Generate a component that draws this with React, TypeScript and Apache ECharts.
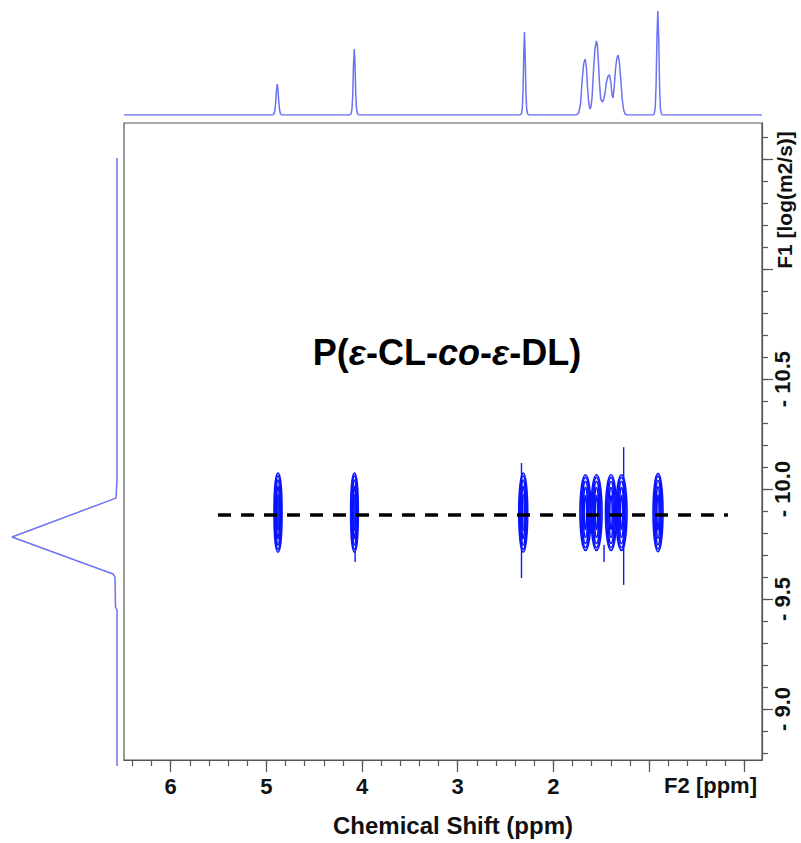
import React, { useEffect, useRef } from 'react';
import * as echarts from 'echarts';

// ---- axis ranges (ppm and log(m2/s)) ----
const X_MIN = -0.181;
const X_MAX = 6.488;
const Y_MIN = -11.664;
const Y_MAX = -8.768;
const LEFT_Y_MAX = -8.723;

// ---- ticks ----
const xMinorTicks = [0, 0.2, 0.4, 0.6, 0.8, 1, 1.2, 1.4, 1.6, 1.8, 2, 2.2, 2.4, 2.6, 2.8, 3, 3.2, 3.4, 3.6, 3.8, 4, 4.2, 4.4, 4.6, 4.8, 5, 5.2, 5.4, 5.6, 5.8, 6, 6.2, 6.4];
const xMajorTicks = [0, 1, 2, 3, 4, 5, 6];
const xTickLabels = [2, 3, 4, 5, 6];
const yMinorTicks = [-11.6, -11.5, -11.4, -11.3, -11.2, -11.1, -11.0, -10.9, -10.8, -10.7, -10.6, -10.5, -10.4, -10.3, -10.2, -10.1, -10.0, -9.9, -9.8, -9.7, -9.6, -9.5, -9.4, -9.3, -9.2, -9.1, -9.0, -8.9, -8.8];
const yMajorTicks = [-11.5, -11.0, -10.5, -10.0, -9.5, -9.0];
const yTickLabels = [-10.5, -10.0, -9.5, -9.0];

// ---- 1D projection on top: [ppm, intensity] ----
const topSpectrum: [number, number][] = [
  [6.488, 0],
  [4.935, 0], [4.92, 1], [4.91, 5], [4.902, 13], [4.894, 25], [4.886, 31], [4.878, 25], [4.87, 13], [4.862, 5], [4.852, 1], [4.837, 0],
  [4.13, 0], [4.115, 1], [4.105, 6], [4.097, 20], [4.089, 50], [4.081, 66], [4.073, 50], [4.065, 20], [4.057, 6], [4.047, 1], [4.032, 0],
  [2.35, 0], [2.335, 1], [2.325, 6], [2.317, 24], [2.309, 62], [2.302, 83], [2.295, 62], [2.287, 24], [2.279, 6], [2.269, 1], [2.255, 0],
  [1.76, 0], [1.735, 2], [1.715, 12], [1.698, 36], [1.682, 52], [1.667, 56], [1.655, 48], [1.643, 28], [1.63, 12], [1.618, 6], [1.607, 8],
  [1.595, 18], [1.58, 45], [1.565, 66], [1.55, 74], [1.54, 70], [1.53, 55], [1.518, 32], [1.505, 16], [1.49, 13], [1.475, 15],
  [1.46, 22], [1.445, 33], [1.428, 39], [1.412, 40], [1.398, 32], [1.386, 20], [1.376, 17], [1.364, 28], [1.35, 46], [1.336, 57],
  [1.322, 60], [1.31, 53], [1.295, 35], [1.28, 16], [1.265, 5], [1.25, 1], [1.23, 0],
  [0.96, 0], [0.945, 1], [0.935, 7], [0.926, 30], [0.917, 78], [0.908, 104], [0.899, 78], [0.89, 30], [0.881, 7], [0.871, 1], [0.856, 0],
  [-0.181, 0],
];

// ---- 1D projection on the left (diffusion): [intensity, log D] ----
const leftProjection: [number, number][] = [
  [0, -11.505], [0, -10.041], [1, -9.959], [105, -9.782], [4, -9.614], [2, -9.6], [1.5, -9.464], [0, -9.45], [0, -8.741],
];

// ---- 2D contour peaks: [ppm, log D, half width (ppm), half height (log D)] ----
const contourPeaks: [number, number, number, number][] = [
  [4.878, -9.893, 0.042, 0.18],
  [4.079, -9.893, 0.04, 0.18],
  [2.315, -9.893, 0.047, 0.18],
  [1.664, -9.893, 0.058, 0.172],
  [1.549, -9.893, 0.058, 0.172],
  [1.397, -9.893, 0.058, 0.172],
  [1.288, -9.893, 0.058, 0.172],
  [0.906, -9.893, 0.052, 0.178],
];

// thin contour tails: [ppm, log D start, log D end]
const contourTails: [number, number, number][] = [
  [2.333, -10.118, -9.595],
  [4.072, -9.72, -9.668],
  [1.265, -10.19, -9.564],
  [1.47, -9.745, -9.668],
];

// dashed guide line: [ppm, log D]
const guideLine: [number, number][] = [
  [5.505, -9.882],
  [0.175, -9.882],
];

const RING_SCALES: [number, number][] = [[1, 1], [0.8, 0.93], [0.6, 0.82], [0.4, 0.66], [0.22, 0.45]];

const FONT = "'Liberation Sans', Arial, Helvetica, sans-serif";
const PROJ_COLOR = '#6b73f2';
const CONTOUR_COLOR = '#0a14ff';

export default function App() {
  const ref = useRef<HTMLDivElement>(null);

  useEffect(() => {
    if (!ref.current) return;
    const chart = echarts.init(ref.current, undefined, { renderer: 'svg' });

    const mainX = { type: 'value', min: X_MIN, max: X_MAX, inverse: true };
    const mainY = { type: 'value', min: Y_MIN, max: Y_MAX, inverse: true };

    const option: any = {
      animation: false,
      backgroundColor: '#ffffff',
      grid: [
        { left: 124, right: 39, top: 123, bottom: 83, show: true, borderColor: '#555', borderWidth: 1.2, backgroundColor: 'transparent', outerBoundsMode: 'none', containLabel: false },
        { left: 124, right: 39, top: 0, bottom: 728, show: false, outerBoundsMode: 'none', containLabel: false },
        { left: 0, width: 124, top: 123, bottom: 73, show: false, outerBoundsMode: 'none', containLabel: false },
      ],
      xAxis: [
        {
          ...mainX, gridIndex: 0, position: 'bottom',
          axisLine: { show: true, onZero: false, lineStyle: { color: '#555', width: 1.2 } },
          axisTick: { show: true, customValues: xMinorTicks, length: 6, lineStyle: { color: '#555', width: 1.2 } },
          axisLabel: { show: false },
          splitLine: { show: false },
        },
        {
          ...mainX, gridIndex: 0, position: 'bottom',
          axisLine: { show: false, onZero: false },
          axisTick: { show: true, customValues: xMajorTicks, length: 12, lineStyle: { color: '#555', width: 1.2 } },
          axisLabel: {
            show: true, customValues: xTickLabels, margin: 15,
            fontSize: 22, fontWeight: 'bold', color: '#111', fontFamily: FONT,
            formatter: (v: number) => String(v),
          },
          splitLine: { show: false },
        },
        { ...mainX, gridIndex: 1, show: false, splitLine: { show: false } },
        { type: 'value', min: -7, max: 117, inverse: true, gridIndex: 2, show: false, splitLine: { show: false } },
      ],
      yAxis: [
        {
          ...mainY, gridIndex: 0, position: 'right',
          axisLine: { show: true, onZero: false, lineStyle: { color: '#555', width: 1.2 } },
          axisTick: { show: true, customValues: yMinorTicks, length: 6, lineStyle: { color: '#555', width: 1.2 } },
          axisLabel: { show: false },
          splitLine: { show: false },
        },
        {
          ...mainY, gridIndex: 0, position: 'right',
          axisLine: { show: false, onZero: false },
          axisTick: { show: true, customValues: yMajorTicks, length: 11, lineStyle: { color: '#555', width: 1.2 } },
          axisLabel: {
            show: true, customValues: yTickLabels, margin: 9, rotate: 90,
            fontSize: 22, fontWeight: 'bold', color: '#111', fontFamily: FONT,
            formatter: (v: number) => '- ' + Math.abs(v).toFixed(1),
          },
          splitLine: { show: false },
        },
        { type: 'value', min: 0, max: 115, gridIndex: 1, show: false, splitLine: { show: false } },
        { type: 'value', min: Y_MIN, max: LEFT_Y_MAX, inverse: true, gridIndex: 2, show: false, splitLine: { show: false } },
      ],
      series: [
        {
          type: 'line', name: 'F2 projection', xAxisIndex: 2, yAxisIndex: 2,
          data: topSpectrum, showSymbol: false, symbol: 'none', smooth: false,
          lineStyle: { color: PROJ_COLOR, width: 1.5 }, z: 3,
        },
        {
          type: 'line', name: 'F1 projection', xAxisIndex: 3, yAxisIndex: 3,
          data: leftProjection, showSymbol: false, symbol: 'none', smooth: false,
          lineStyle: { color: PROJ_COLOR, width: 1.5 }, z: 3,
        },
        {
          type: 'custom', name: 'contours', xAxisIndex: 0, yAxisIndex: 0,
          data: contourPeaks, encode: { x: 0, y: 1 }, z: 4,
          renderItem: (params: any, api: any) => {
            const cx = api.value(0), cy = api.value(1), hw = api.value(2), hh = api.value(3);
            const c = api.coord([cx, cy]);
            const e = api.coord([cx - hw, cy + hh]);
            const rx = Math.abs(e[0] - c[0]);
            const ry = Math.abs(e[1] - c[1]);
            const children = RING_SCALES.map(([sx, sy]) => ({
              type: 'ellipse',
              shape: { cx: c[0], cy: c[1], rx: rx * sx, ry: ry * sy },
              style: { fill: 'none', stroke: CONTOUR_COLOR, lineWidth: 1.6 },
            }));
            return { type: 'group', children };
          },
        },
        {
          type: 'custom', name: 'tails', xAxisIndex: 0, yAxisIndex: 0,
          data: contourTails, encode: { x: 0, y: [1, 2] }, z: 4,
          renderItem: (params: any, api: any) => {
            const p1 = api.coord([api.value(0), api.value(1)]);
            const p2 = api.coord([api.value(0), api.value(2)]);
            return {
              type: 'line',
              shape: { x1: p1[0], y1: p1[1], x2: p2[0], y2: p2[1] },
              style: { stroke: CONTOUR_COLOR, lineWidth: 1.4 },
            };
          },
        },
        {
          type: 'line', name: 'guide', xAxisIndex: 0, yAxisIndex: 0,
          data: guideLine, showSymbol: false, symbol: 'none',
          lineStyle: { color: '#000', width: 3.5, type: [13, 10] }, z: 6,
        },
      ],
      graphic: [
        {
          type: 'text', x: 447, y: 352, z: 10,
          style: {
            text: '{b|P(}{i|ε}{b|-CL-}{i|co}{b|-}{i|ε}{b|-DL)}',
            align: 'center', verticalAlign: 'middle',
            rich: {
              b: { fontSize: 36, fontWeight: 'bold', fontFamily: FONT, fill: '#000' },
              i: { fontSize: 36, fontWeight: 'bold', fontStyle: 'italic', fontFamily: FONT, fill: '#000' },
            },
          },
        },
        {
          type: 'text', x: 757, y: 785, z: 10,
          style: { text: 'F2 [ppm]', align: 'right', verticalAlign: 'middle', fontSize: 22, fontWeight: 'bold', fontFamily: FONT, fill: '#111' },
        },
        {
          type: 'text', x: 453, y: 825, z: 10,
          style: { text: 'Chemical Shift (ppm)', align: 'center', verticalAlign: 'middle', fontSize: 24, fontWeight: 'bold', fontFamily: FONT, fill: '#111' },
        },
        {
          type: 'text', x: 784, y: 200, rotation: Math.PI / 2, z: 10,
          style: { text: 'F1 [log(m2/s)]', align: 'center', verticalAlign: 'middle', fontSize: 21, fontWeight: 'bold', fontFamily: FONT, fill: '#111' },
        },
      ],
    };

    chart.setOption(option);
    return () => chart.dispose();
  }, []);

  return (
    <div
      ref={ref}
      style={{ position: 'fixed', left: 0, top: 0, width: 801, height: 843, background: '#fff' }}
    />
  );
}
